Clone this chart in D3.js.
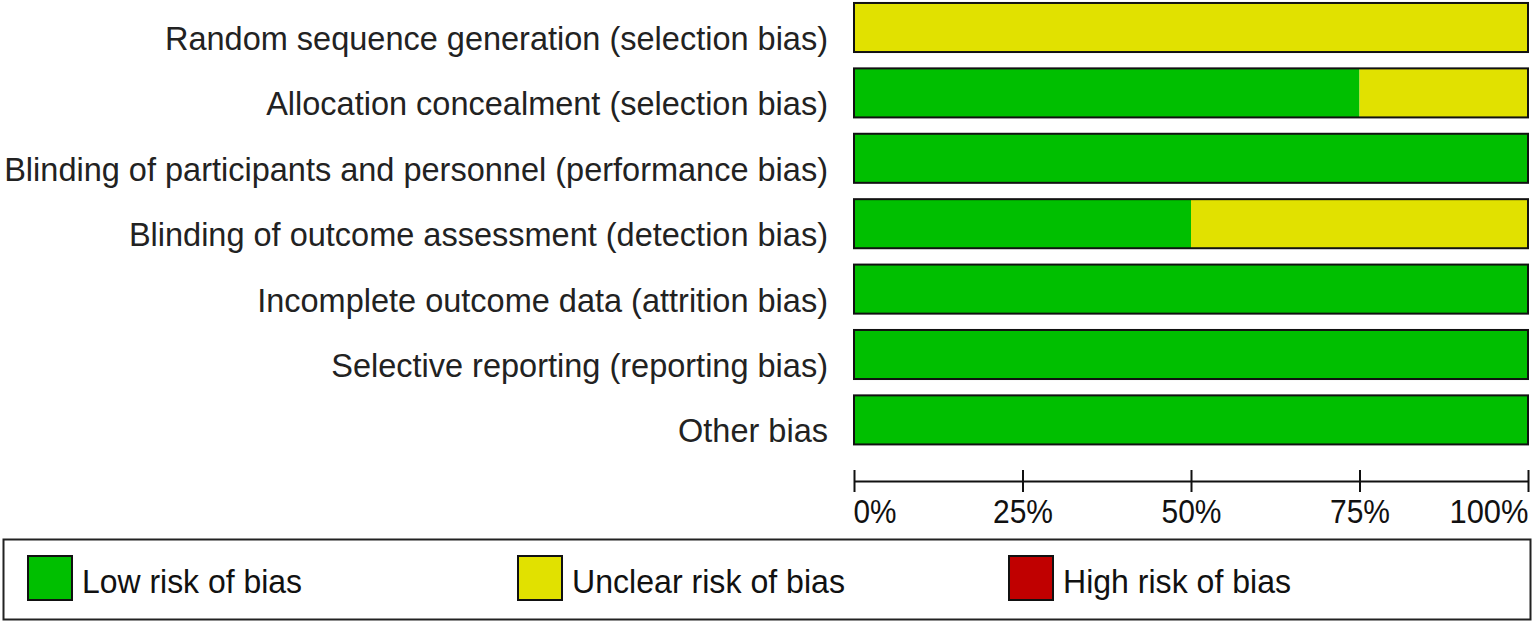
<!DOCTYPE html>
<html>
<head>
<meta charset="utf-8">
<script src="https://cdn.jsdelivr.net/npm/d3@7"></script>
<style>
  html, body { margin: 0; padding: 0; background: #ffffff; }
  svg { display: block; }
  .cat { font-family: "Liberation Sans", Arial, sans-serif; font-size: 32.5px; fill: #222; }
  .tick-label, .legend-label { font-family: "Liberation Sans", Arial, sans-serif; fill: #111; }
</style>
</head>
<body>
<svg id="chart" width="1535" height="623"></svg>
<script>
// 項目ごとのデータ
const categories = [
  "Random sequence generation (selection bias)",
  "Allocation concealment (selection bias)",
  "Blinding of participants and personnel (performance bias)",
  "Blinding of outcome assessment (detection bias)",
  "Incomplete outcome data (attrition bias)",
  "Selective reporting (reporting bias)",
  "Other bias"
];
const lowRisk     = [0, 75, 100, 50, 100, 100, 100];
const unclearRisk = [100, 25, 0, 50, 0, 0, 0];
const highRisk    = [0, 0, 0, 0, 0, 0, 0];
const tickValues  = [0, 25, 50, 75, 100];
const legendLabels = ["Low risk of bias", "Unclear risk of bias", "High risk of bias"];
const colors = ["#00bf00", "#e1e100", "#c00000"];

const svg = d3.select("#chart");

// スケール
const x = d3.scaleLinear().domain([0, 100]).range([854, 1528]);
const y = d3.scaleBand()
  .domain(categories)
  .range([-5.2, 452.6])
  .paddingInner(0.25)
  .paddingOuter(0.125);

const rows = categories.map((c, i) => ({
  cat: c,
  parts: [lowRisk[i], unclearRisk[i], highRisk[i]]
}));

// ラベル（ベースラインはバー下端付近）
svg.selectAll(".cat")
  .data(rows)
  .enter().append("text")
  .attr("class", "cat")
  .attr("x", 828)
  .attr("y", d => y(d.cat) + y.bandwidth() - 2)
  .attr("text-anchor", "end")
  .text(d => d.cat);

// 積み上げバー
rows.forEach(r => {
  let acc = 0;
  r.parts.forEach((v, k) => {
    if (v > 0) {
      svg.append("rect")
        .attr("x", x(acc))
        .attr("y", y(r.cat))
        .attr("width", x(acc + v) - x(acc))
        .attr("height", y.bandwidth())
        .attr("fill", colors[k]);
    }
    acc += v;
  });
  // 外枠
  svg.append("rect")
    .attr("x", x(0))
    .attr("y", y(r.cat))
    .attr("width", x(100) - x(0))
    .attr("height", y.bandwidth())
    .attr("fill", "none")
    .attr("stroke", "#111")
    .attr("stroke-width", 2);
});

// X軸
const axisY = 481;
const axis = svg.append("g")
  .attr("transform", `translate(0,${axisY})`)
  .call(d3.axisBottom(x).tickValues(tickValues).tickSize(11).tickSizeOuter(0).tickFormat(d => d + "%"));
axis.select(".domain").attr("stroke", "#111").attr("stroke-width", 2);
axis.selectAll(".tick line")
  .attr("stroke", "#111")
  .attr("stroke-width", 2)
  .attr("y1", -11);
axis.selectAll(".tick text")
  .attr("class", "tick-label")
  .attr("y", 42)
  .attr("dy", 0)
  .style("font-size", "33px")
  .style("font-family", "'Liberation Sans', Arial, sans-serif")
  .attr("fill", "#111")
  .attr("text-anchor", d => d === 0 ? "start" : (d === 100 ? "end" : "middle"))
  .attr("x", d => d === 0 ? -1 : 0)
  .attr("textLength", d => d === 100 ? 79 : (d === 0 ? 43 : 60))
  .attr("lengthAdjust", "spacingAndGlyphs");

// 凡例
svg.append("rect")
  .attr("x", 3.5).attr("y", 539.5)
  .attr("width", 1527).attr("height", 80)
  .attr("fill", "none")
  .attr("stroke", "#222")
  .attr("stroke-width", 2);

const legendX = [28, 518, 1009];
const legendTextLen = [220, 273, 228];
legendLabels.forEach((lab, k) => {
  svg.append("rect")
    .attr("x", legendX[k]).attr("y", 556)
    .attr("width", 44).attr("height", 44)
    .attr("fill", colors[k])
    .attr("stroke", "#111")
    .attr("stroke-width", 2);
  svg.append("text")
    .attr("class", "legend-label")
    .attr("x", legendX[k] + 54)
    .attr("y", 593)
    .style("font-size", "33px")
    .attr("textLength", legendTextLen[k])
    .attr("lengthAdjust", "spacingAndGlyphs")
    .text(lab);
});
</script>
</body>
</html>
